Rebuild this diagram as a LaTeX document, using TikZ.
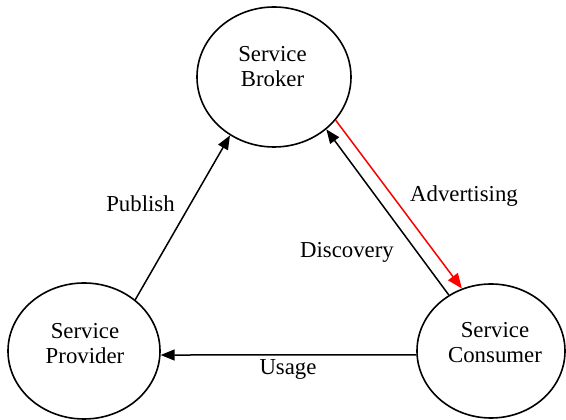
\documentclass[tikz,border=0pt]{standalone}
\usepackage{fontspec}
\setmainfont{Liberation Serif}
\usetikzlibrary{shapes.geometric,arrows.meta}
\begin{document}
\begin{tikzpicture}[x=1pt,y=1pt,
  party/.style={draw, ellipse, line width=1.6pt, inner sep=0pt},
  txt/.style={font=\fontsize{22.8}{25.5}\selectfont, align=center, inner sep=0pt},
  flow/.style={line width=1.5pt, -{Triangle[length=14pt,width=11pt]}},
  redflow/.style={flow, draw=red, -{Triangle[length=15pt,width=12pt,fill=red]}}]
  \useasboundingbox (0,0) rectangle (566,420);

  % the three parties
  \node[party, minimum width=154pt, minimum height=140pt] (broker)   at (274,343) {};
  \node[party, minimum width=152pt, minimum height=136pt] (provider) at (84,69) {};
  \node[party, minimum width=148pt, minimum height=134pt] (consumer) at (491,69) {};

  \node[txt] (brokertxt)   at (272.5,353.5) {Service\\Broker};
  \node[txt] (providertxt) at (85,76.5)     {Service\\Provider};
  \node[txt] (consumertxt) at (495,77.5)    {Service\\Consumer};

  % interactions
  \draw[flow] (provider.45) -- (broker.233);
  \draw[flow] (consumer.183) -- (provider.357);
  \draw[flow] (consumer.127.5) -- (broker.315);
  \draw[redflow] (broker.325) -- (consumer.115);

  % interaction labels
  \node[txt, anchor=base] (publish)   at (140.5,208) {Publish};
  \node[txt, anchor=base] (usage)     at (288,45)    {Usage};
  \node[txt, anchor=base] (discovery) at (347,162)   {Discovery};
  \node[txt, anchor=base] (advert)    at (464,218)   {Advertising};
\end{tikzpicture}
\end{document}
